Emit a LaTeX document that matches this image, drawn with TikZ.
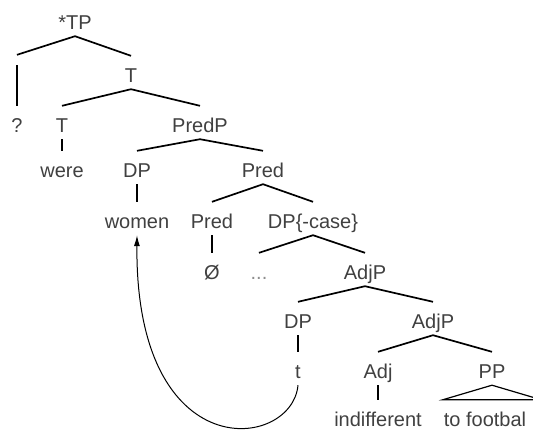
\documentclass[tikz,border=0pt]{standalone}
\usepackage{fontspec}
\setmainfont{Liberation Sans}
\usetikzlibrary{arrows.meta}
\definecolor{ink}{HTML}{404040}

\begin{document}
\begin{tikzpicture}[x=1pt, y=-1pt,
  lbl/.style={anchor=base, text=ink, font=\fontsize{20}{24}\selectfont,
    text height=24pt, text depth=5pt, inner xsep=1pt, inner ysep=2pt},
  branch/.style={line width=1.7pt},
  stem/.style={line width=1.2pt}]
\useasboundingbox (0,0) rectangle (533,429);

% *TP
\node[lbl] (tp) at (75,29) {*TP};
\node[inner sep=0pt, minimum height=10pt, minimum width=0pt] (gap) at (17,60) {};
\node[lbl] (t1) at (131,82) {T};
\draw[branch] (gap.north) -- (tp.south) -- (t1.north);

% T
\node[lbl] (q) at (17,132) {?};
\node[lbl] (t2) at (62,132) {T};
\node[lbl] (predp) at (200,132) {PredP};
\draw[stem] (gap.south) -- (q.north);
\draw[branch] (t2.north) -- (t1.south) -- (predp.north);

% PredP
\node[lbl] (were) at (62,177) {were};
\node[lbl] (dp1) at (137,177) {DP};
\node[lbl] (pred1) at (263,177) {Pred};
\draw[stem] (t2.south) -- (were.north);
\draw[branch] (dp1.north) -- (predp.south) -- (pred1.north);

% Pred
\node[lbl] (women) at (137,228) {women};
\node[lbl] (pred2) at (212,228) {Pred};
\node[lbl] (dpcase) at (313,228) {DP\{-case\}};
\draw[stem] (dp1.south) -- (women.north);
\draw[branch] (pred2.north) -- (pred1.south) -- (dpcase.north);

% DP{-case}
\node[lbl] (null) at (212,279) {Ø};
\node[lbl, text=ink!60] (dots) at (259,279) {...};
\node[lbl] (adjp1) at (365,279) {AdjP};
\draw[stem] (pred2.south) -- (null.north);
\draw[branch] (dots.north) -- (dpcase.south) -- (adjp1.north);

% AdjP
\node[lbl] (dp2) at (298,328) {DP};
\node[lbl] (adjp2) at (433,328) {AdjP};
\draw[branch] (dp2.north) -- (adjp1.south) -- (adjp2.north);

% lower AdjP
\node[lbl] (trace) at (298,378) {t};
\node[lbl] (adj) at (378,378) {Adj};
\node[lbl] (pp) at (492,378) {PP};
\draw[stem] (dp2.south) -- (trace.north);
\draw[branch] (adj.north) -- (adjp2.south) -- (pp.north);

% leaves
\node[lbl] (indiff) at (378,426) {indifferent};
\node[lbl] (foot) at (485,426) {to footbal};
\draw[stem] (adj.south) -- (indiff.north);
\draw[stem] (pp.south) -- (foot.north west) -- ([xshift=14pt]foot.north east) -- cycle;

% movement
\draw[line width=1pt, -{Latex[length=11pt, width=6pt]}] (trace.south)
  .. controls +(-6,65) and +(-2,234) .. (women.south);
\end{tikzpicture}
\end{document}
